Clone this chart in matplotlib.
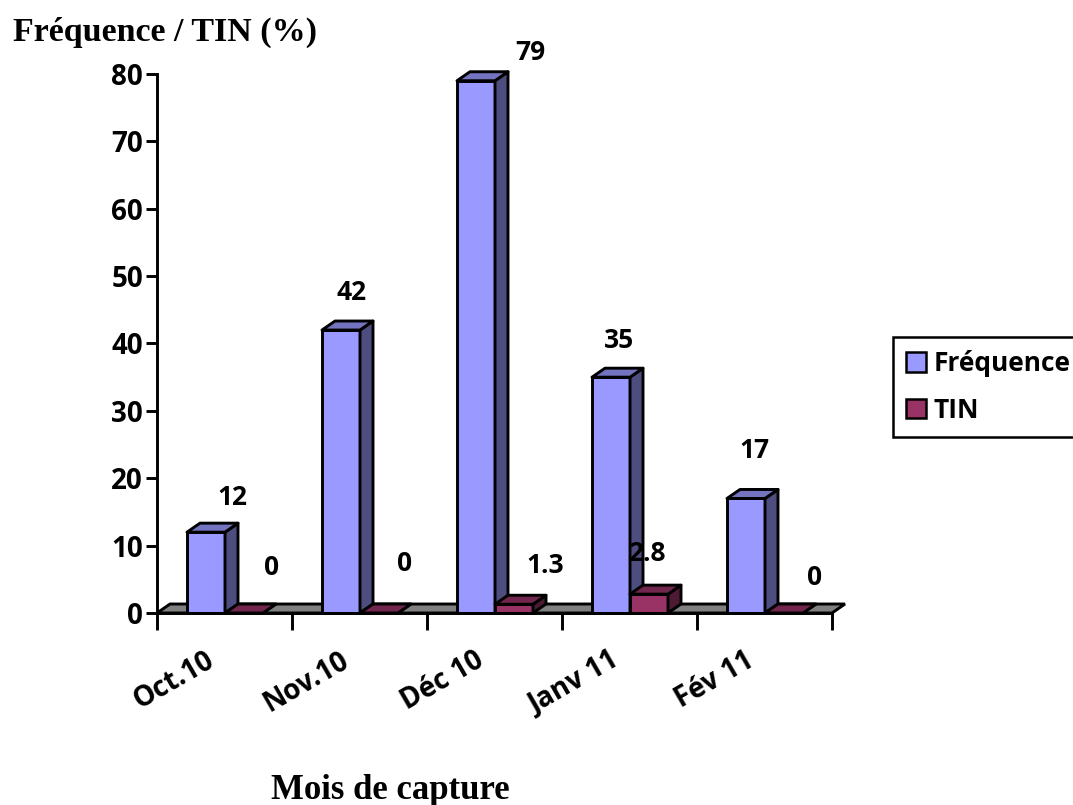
import matplotlib.pyplot as plt
from matplotlib.patches import Polygon, Patch
from matplotlib.transforms import offset_copy

# données de capture
mois = ["Oct.10", "Nov.10", "Déc 10", "Janv 11", "Fév 11"]
frequence = [12, 42, 79, 35, 17]
tin = [0, 0, 1.3, 2.8, 0]
tin_labels = ["0", "0", "1.3", "2.8", "0"]

# décalage des étiquettes (pixels) pour chaque barre
off_freq = [(26, 35), (11, 38), (54, 28), (8, 37), (8, 48)]
off_tin = [(28, 46), (26, 50), (31, 39), (-2, 41), (31, 36)]

c_freq = ("#9999FF", "#4D4D80", "#7373C0")   # face, côté, dessus
c_tin = ("#993366", "#4D1A33", "#73264D")

plt.rcParams["font.family"] = ["Open Sans", "DejaVu Sans"]
plt.rcParams["font.weight"] = "bold"

fig = plt.figure(figsize=(10.73, 8.05), dpi=100)
ax = fig.add_axes([157 / 1073, 192 / 805, 675 / 1073, 539 / 805])
ax.set_xlim(0, 5)
ax.set_ylim(0, 80)

dx, dy = 13 / 135, 9 / 6.74   # profondeur 3D en unités des données
w = 38 / 135
lw = 2.1

def boite(x0, h, cols):
    x1 = x0 + w
    faces = [
        ([(x0, 0), (x1, 0), (x1, h), (x0, h)], cols[0]),
        ([(x1, 0), (x1 + dx, dy), (x1 + dx, h + dy), (x1, h)], cols[1]),
        ([(x0, h), (x1, h), (x1 + dx, h + dy), (x0 + dx, h + dy)], cols[2]),
    ]
    for pts, col in faces:
        ax.add_patch(Polygon(pts, closed=True, facecolor=col, edgecolor="black",
                             linewidth=lw, clip_on=False, joinstyle="round"))

# sol gris
ax.add_patch(Polygon([(0, 0), (5, 0), (5 + dx, dy), (dx, dy)], closed=True,
                     facecolor="#808080", edgecolor="black", linewidth=lw, clip_on=False))

for i in range(len(mois)):
    xf = i + 30 / 135
    boite(xf, frequence[i], c_freq)
    boite(xf + w, tin[i], c_tin)
    tr = offset_copy(ax.transData, fig=fig, x=off_freq[i][0], y=off_freq[i][1], units="dots")
    ax.text(xf + w / 2, frequence[i], str(frequence[i]), transform=tr,
            ha="center", va="center", fontsize=19, fontweight="bold")
    tr = offset_copy(ax.transData, fig=fig, x=off_tin[i][0], y=off_tin[i][1], units="dots")
    ax.text(xf + 1.5 * w, tin[i], tin_labels[i], transform=tr,
            ha="center", va="center", fontsize=19, fontweight="bold")
    tr = offset_copy(ax.transData, fig=fig, x=-20, y=-33, units="dots")
    ax.text(i + 0.5, 0, mois[i], transform=tr, rotation=30, rotation_mode="anchor",
            ha="right", va="top", fontsize=20, fontweight="bold")

for s in ["top", "right"]:
    ax.spines[s].set_visible(False)
ax.spines["left"].set_linewidth(lw)
ax.spines["bottom"].set_linewidth(lw)
ax.set_xticks(range(6))
ax.set_xticklabels([])
ax.set_yticks(range(0, 81, 10))
ax.tick_params(axis="x", direction="out", length=12, width=lw)
ax.tick_params(axis="y", direction="out", length=8, width=lw, labelsize=20, pad=2)
for t in ax.get_yticklabels():
    t.set_fontweight("bold")

fig.text(13 / 1073, 1 - 32 / 805, "Fréquence / TIN (%)", family="Liberation Serif",
         fontweight="bold", fontsize=24.5, va="center", ha="left")
fig.text(390 / 1073, 1 - 790 / 805, "Mois de capture", family="Liberation Serif",
         fontweight="bold", fontsize=25, va="center", ha="center")

handles = [Patch(facecolor=c_freq[0], edgecolor="black", linewidth=1.8, label="Fréquence"),
           Patch(facecolor=c_tin[0], edgecolor="black", linewidth=1.8, label="TIN")]
leg = fig.legend(handles=handles, loc="upper left", bbox_to_anchor=(893 / 1073, 1 - 337 / 805),
                 fancybox=False, edgecolor="black", framealpha=1,
                 handlelength=0.75, handleheight=0.75, handletextpad=0.3, borderpad=0.5,
                 borderaxespad=0, labelspacing=0.75, prop={"weight": "bold", "size": 19})
leg.get_frame().set_linewidth(1.8)

fig.savefig("out.png", dpi=100)
